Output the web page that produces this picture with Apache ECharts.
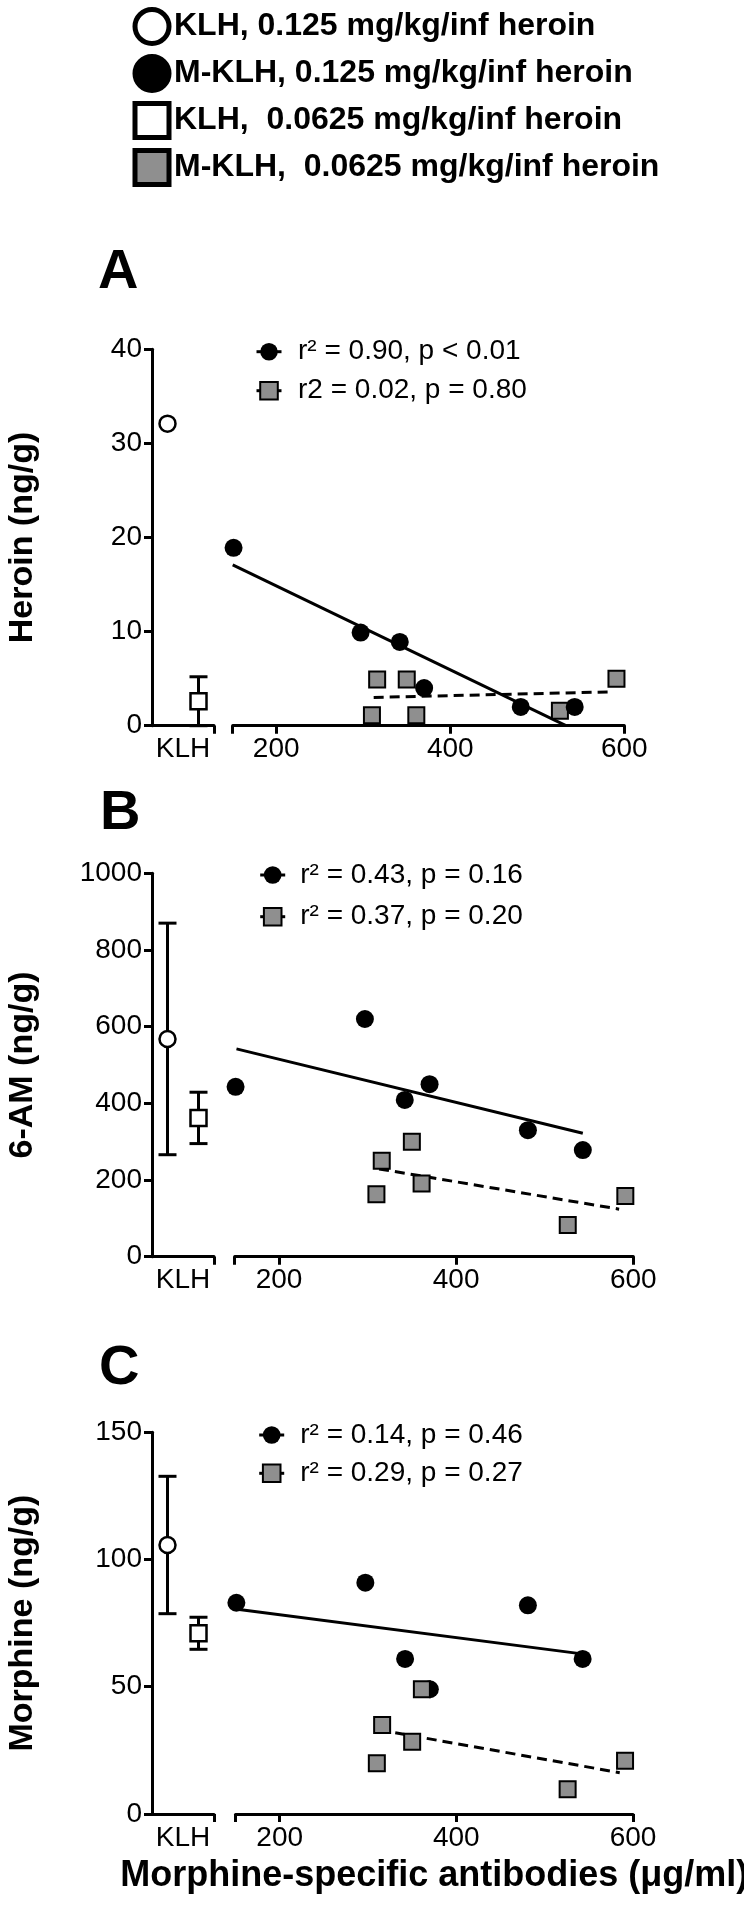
<!DOCTYPE html>
<html><head><meta charset="utf-8">
<script src="https://cdn.jsdelivr.net/npm/echarts@6/dist/echarts.min.js"></script>
<style>html,body{margin:0;padding:0;background:#fff}#c{width:744px;height:1909px}</style>
</head><body><div id="c"></div>
<script>
// ---------- data ----------
const legendNames = ['KLH, 0.125 mg/kg/inf heroin', 'M-KLH, 0.125 mg/kg/inf heroin', 'KLH,  0.0625 mg/kg/inf heroin', 'M-KLH,  0.0625 mg/kg/inf heroin'];
const panelLetters = ['A', 'B', 'C'];
const yTitles = ['Heroin (ng/g)', '6-AM (ng/g)', 'Morphine (ng/g)'];
const xTitle = 'Morphine-specific antibodies (\u03bcg/ml)';
const klhLabel = ['KLH'];
const klhSlots = [1, 3];          // slot of KLH 0.125 and KLH 0.0625 on the KLH axis
const klhAxisMax = 4;
const yMax = [40, 1000, 150];
const yStep = [10, 200, 50];
const xMin = 150;
const xTicks = [200, 400, 600];

// antibody titres (µg/ml)
const abHigh = [151, 297, 342, 370, 481, 543];   // M-KLH 0.125
const abLow = [310, 316, 350, 361, 526, 591];    // M-KLH 0.0625

// brain concentrations
const heroinHigh = [18.9, 9.9, 8.9, 4.0, 2.0, 2.0];
const heroinLow = [1.1, 4.9, 4.9, 1.1, 1.6, 5.0];
const am6High = [443, 620, 409, 450, 330, 278];
const am6Low = [163, 250, 300, 191, 83, 158];
const morHigh = [83.0, 90.9, 60.9, 49.0, 82.0, 60.9];
const morLow = [19.9, 34.9, 28.4, 49.0, 9.7, 20.9];

// KLH controls (mean, SEM) for heroin, 6-AM, morphine
const klhHighMean = [32.1, 568, 105.7];
const klhHighSem = [0, 302, 27];
const klhLowMean = [2.6, 362, 71.0];
const klhLowSem = [2.6, 67, 6.3];

// regression lines (end points)
const fitHighX = [[150, 533], [152, 543], [152, 540]];
const fitHighY = [[17.1, 0], [542, 322], [80.4, 63]];
const fitLowX = [[312, 587], [313, 584], [313, 585]];
const fitLowY = [[3.0, 3.6], [229, 124], [33.0, 16.2]];

const statsHigh = ['r\u00b2 = 0.90, p < 0.01', 'r\u00b2 = 0.43, p = 0.16', 'r\u00b2 = 0.14, p = 0.46'];
const statsLow = ['r2 = 0.02, p = 0.80', 'r\u00b2 = 0.37, p = 0.20', 'r\u00b2 = 0.29, p = 0.27'];

// ---------- layout ----------
const L = [
  {top: 349.3, h: 376.4, rl: 232.7, rw: 391.6, lgTop: 337.7, lgLeft: 255, lgGap: 11, lgPad: 11.5, tTop: 245, tLeft: 98},
  {top: 873.3, h: 383.4, rl: 234.7, rw: 398.6, lgTop: 861, lgLeft: 258.7, lgGap: 13.7, lgPad: 10, tTop: 786, tLeft: 100},
  {top: 1432.3, h: 381.6, rl: 235.5, rw: 397.5, lgTop: 1421, lgLeft: 257.7, lgGap: 10.3, lgPad: 11, tTop: 1341, tLeft: 99}
];
const yHigh = [heroinHigh, am6High, morHigh];
const yLow = [heroinLow, am6Low, morLow];
const squaresOnTop = [false, true, true];
const FONT = '"Liberation Sans", Arial, sans-serif';
const GRAY = '#8f8f8f';

function renderErr(params, api) {
  const x = api.value(0), m = api.value(1), e = api.value(2);
  if (!e) return null;
  const p1 = api.coord([x, m + e]), p2 = api.coord([x, m - e]);
  const hw = 9;
  const st = {stroke: '#000', lineWidth: 3, fill: null};
  return {type: 'group', children: [
    {type: 'line', shape: {x1: p1[0], y1: p1[1], x2: p2[0], y2: p2[1]}, style: st},
    {type: 'line', shape: {x1: p1[0] - hw, y1: p1[1], x2: p1[0] + hw, y2: p1[1]}, style: st},
    {type: 'line', shape: {x1: p2[0] - hw, y1: p2[1], x2: p2[0] + hw, y2: p2[1]}, style: st}
  ]};
}

const option = {
  animation: false,
  backgroundColor: '#fff',
  textStyle: {fontFamily: FONT, color: '#000'},
  title: [], legend: [], grid: [], xAxis: [], yAxis: [], series: []
};

// top legend
option.legend.push({
  left: 132.5, top: 7, padding: 0, orient: 'vertical', selectedMode: false,
  itemWidth: 34, itemHeight: 34, itemGap: 8,
  textStyle: {fontSize: 32, fontWeight: 'bold', color: '#000', fontFamily: FONT},
  data: [
    {name: legendNames[0], icon: 'circle', itemStyle: {color: '#fff', borderColor: '#000', borderWidth: 5}},
    {name: legendNames[1], icon: 'circle', itemStyle: {color: '#000', borderColor: '#000', borderWidth: 5}},
    {name: legendNames[2], icon: 'rect', itemStyle: {color: '#fff', borderColor: '#000', borderWidth: 5}},
    {name: legendNames[3], icon: 'rect', itemStyle: {color: GRAY, borderColor: '#000', borderWidth: 5}}
  ]
});

const axisLine = {show: true, lineStyle: {color: '#000', width: 3}};
const axisTick = {show: true, length: 8, lineStyle: {color: '#000', width: 3}};

for (let i = 0; i < 3; i++) {
  const g = L[i];
  option.title.push({
    text: panelLetters[i], left: g.tLeft, top: g.tTop, padding: 0,
    textStyle: {fontSize: 56, fontWeight: 'bold', color: '#000', fontFamily: FONT}
  });
  option.legend.push({
    left: g.lgLeft, top: g.lgTop, padding: 0, orient: 'vertical', selectedMode: false,
    itemWidth: 25, itemHeight: 22, itemGap: g.lgGap,
    lineStyle: {color: '#000', width: 3, type: 'solid', opacity: 1},
    textStyle: {fontSize: 28, color: '#000', fontFamily: FONT, padding: [0, 0, 0, g.lgPad]},
    data: [
      {name: statsHigh[i], itemStyle: {color: '#000', borderWidth: 0}},
      {name: statsLow[i], itemStyle: {color: GRAY, borderColor: '#000', borderWidth: 2}}
    ]
  });
  // grids
  option.grid.push({left: 152, top: g.top, width: 62, height: g.h, outerBoundsMode: 'none', containLabel: false});
  option.grid.push({left: g.rl, top: g.top, width: g.rw, height: g.h, outerBoundsMode: 'none', containLabel: false});
  const gl = 2 * i, gr = 2 * i + 1;
  // KLH x axis
  option.xAxis.push({
    type: 'value', gridIndex: gl, min: 0, max: klhAxisMax,
    axisLine: axisLine,
    axisTick: Object.assign({}, axisTick, {customValues: [klhAxisMax]}),
    axisLabel: {customValues: [2], formatter: () => klhLabel[0], fontSize: 28, color: '#000', margin: 10, fontFamily: FONT},
    splitLine: {show: false}
  });
  // antibody x axis
  const xr = {
    type: 'value', gridIndex: gr, min: xMin, max: xTicks[xTicks.length - 1],
    axisLine: axisLine,
    axisTick: Object.assign({}, axisTick, {customValues: [xMin].concat(xTicks)}),
    axisLabel: {customValues: xTicks, formatter: v => String(v), fontSize: 28, color: '#000', margin: 10, fontFamily: FONT},
    splitLine: {show: false}
  };
  if (i === 2) {
    Object.assign(xr, {name: xTitle, nameLocation: 'middle', nameGap: 44,
      nameTextStyle: {fontSize: 36, fontWeight: 'bold', color: '#000', fontFamily: FONT}});
  }
  option.xAxis.push(xr);
  option.yAxis.push({
    type: 'value', gridIndex: gl, min: 0, max: yMax[i], interval: yStep[i],
    axisLine: axisLine, axisTick: axisTick,
    axisLabel: {formatter: v => String(v), fontSize: 28, color: '#000', margin: 10, fontFamily: FONT},
    splitLine: {show: false},
    name: yTitles[i], nameLocation: 'middle', nameGap: 112, nameRotate: 90,
    nameTextStyle: {fontSize: 34, fontWeight: 'bold', color: '#000', fontFamily: FONT}
  });
  option.yAxis.push({
    type: 'value', gridIndex: gr, min: 0, max: yMax[i], interval: yStep[i], show: false,
    splitLine: {show: false}
  });

  // error bars for KLH controls
  option.series.push({
    type: 'custom', xAxisIndex: gl, yAxisIndex: gl, z: 2, silent: true,
    renderItem: renderErr, encode: {x: 0, y: 1},
    data: [[klhSlots[0], klhHighMean[i], klhHighSem[i]], [klhSlots[1], klhLowMean[i], klhLowSem[i]]]
  });
  option.series.push({
    name: legendNames[0], type: 'scatter', xAxisIndex: gl, yAxisIndex: gl, z: 3, silent: true,
    symbol: 'circle', symbolSize: 16,
    itemStyle: {color: '#fff', borderColor: '#000', borderWidth: 2.5, opacity: 1},
    data: [[klhSlots[0], klhHighMean[i]]]
  });
  option.series.push({
    name: legendNames[2], type: 'scatter', xAxisIndex: gl, yAxisIndex: gl, z: 3, silent: true,
    symbol: 'rect', symbolSize: 16,
    itemStyle: {color: '#fff', borderColor: '#000', borderWidth: 2.5, opacity: 1},
    data: [[klhSlots[1], klhLowMean[i]]]
  });
  // regression lines
  option.series.push({
    name: statsHigh[i], type: 'line', xAxisIndex: gr, yAxisIndex: gr, z: 2, silent: true,
    symbol: 'circle', showSymbol: false,
    lineStyle: {color: '#000', width: 3},
    itemStyle: {color: '#000'},
    data: fitHighX[i].map((x, j) => [x, fitHighY[i][j]])
  });
  option.series.push({
    name: statsLow[i], type: 'line', xAxisIndex: gr, yAxisIndex: gr, z: 2, silent: true,
    symbol: 'rect', showSymbol: false,
    lineStyle: {color: '#000', width: 3, type: [10, 6]},
    itemStyle: {color: GRAY, borderColor: '#000', borderWidth: 2},
    data: fitLowX[i].map((x, j) => [x, fitLowY[i][j]])
  });
  // M-KLH animals
  option.series.push({
    name: legendNames[1], type: 'scatter', xAxisIndex: gr, yAxisIndex: gr,
    z: squaresOnTop[i] ? 3 : 4, silent: true,
    symbol: 'circle', symbolSize: 18,
    itemStyle: {color: '#000', opacity: 1},
    data: abHigh.map((x, j) => [x, yHigh[i][j]])
  });
  option.series.push({
    name: legendNames[3], type: 'scatter', xAxisIndex: gr, yAxisIndex: gr,
    z: squaresOnTop[i] ? 4 : 3, silent: true,
    symbol: 'rect', symbolSize: 16,
    itemStyle: {color: GRAY, borderColor: '#000', borderWidth: 2, opacity: 1},
    data: abLow.map((x, j) => [x, yLow[i][j]])
  });
}

const chart = echarts.init(document.getElementById('c'), null, {renderer: 'canvas'});
chart.setOption(option);
</script>
</body></html>
